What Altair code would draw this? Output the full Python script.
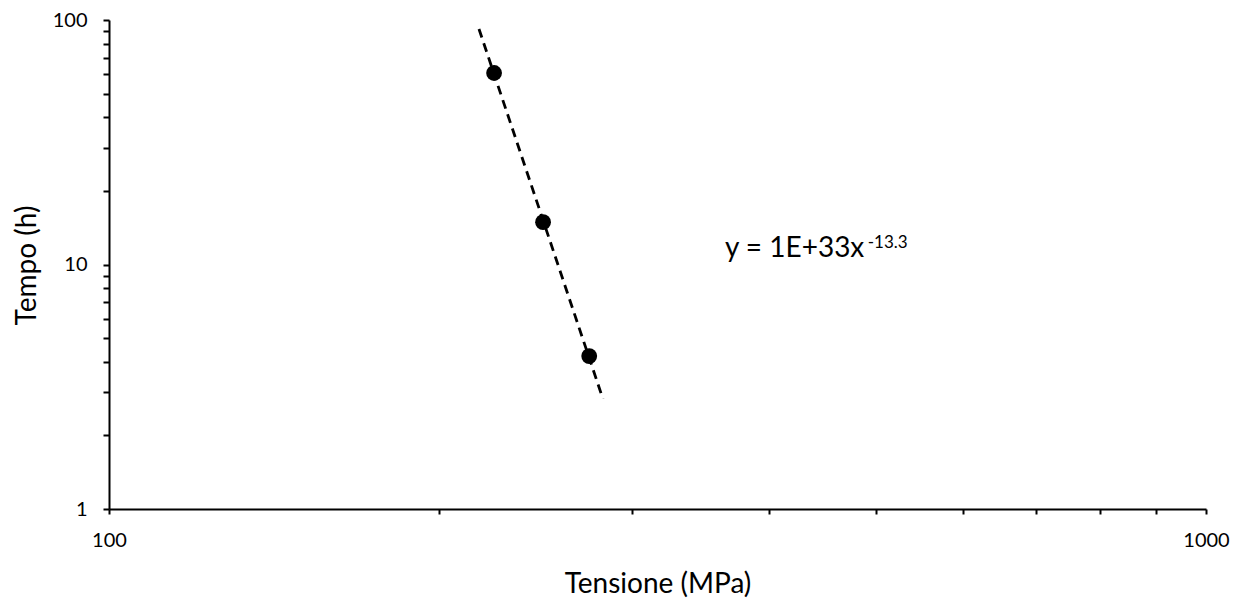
import altair as alt
import pandas as pd

# Data points
tension = [224.4, 248.7, 274.0]
time_h = [60.7, 14.9, 4.22]

# Trendline endpoints (power fit y = 1E+33 x^-13.3, as drawn)
trend_x = [217.4, 282.0]
trend_y = [91.9, 2.82]

x_ticks = [100, 200, 300, 400, 500, 600, 700, 800, 900, 1000]
y_ticks = [1, 2, 3, 4, 5, 6, 7, 8, 9, 10, 20, 30, 40, 50, 60, 70, 80, 90, 100]

eq_main = "y = 1E+33x"
eq_sup = "-13.3"
eq_pos = [(364.3, 10.73), (491.7, 11.68)]

FONT = "Lato"

pts = pd.DataFrame({"x": tension, "y": time_h})
trend = pd.DataFrame({"x": trend_x, "y": trend_y})
eq = pd.DataFrame({"x": [eq_pos[0][0], eq_pos[1][0]],
                   "y": [eq_pos[0][1], eq_pos[1][1]],
                   "t": [eq_main, eq_sup]})

xs = alt.Scale(type="log", domain=[100, 1000], nice=False)
ys = alt.Scale(type="log", domain=[1, 100], nice=False)

xaxis = alt.Axis(values=x_ticks, title="Tensione (MPa)",
                 labelExpr="(datum.value == 100 || datum.value == 1000) ? datum.value : ''",
                 grid=False, domainColor="black", domainWidth=2, tickColor="black",
                 tickWidth=2, tickSize=5, labelFontSize=20, labelFont=FONT,
                 labelColor="black", titleFont=FONT, titleFontSize=28,
                 titleFontWeight="normal", titleColor="black", labelPadding=16,
                 titleBaseline="alphabetic", titleY=83, labelFlush=False)
yaxis = alt.Axis(values=y_ticks, title="Tempo (h)",
                 labelExpr="(datum.value == 1 || datum.value == 10 || datum.value == 100) ? datum.value : ''",
                 grid=False, domainColor="black", domainWidth=2, tickColor="black",
                 tickWidth=2, tickSize=6, labelFontSize=20, labelFont=FONT,
                 labelColor="black", titleFont=FONT, titleFontSize=28,
                 titleFontWeight="normal", titleColor="black", labelPadding=16,
                 titleBaseline="middle", titleX=-82, titleY=245, labelFlush=False)

line = alt.Chart(trend).mark_line(color="black", strokeWidth=2.8, strokeDash=[9, 6]).encode(
    x=alt.X("x:Q", scale=xs, axis=xaxis),
    y=alt.Y("y:Q", scale=ys, axis=yaxis),
)
points = alt.Chart(pts).mark_circle(color="black", opacity=1, size=250).encode(
    x=alt.X("x:Q", scale=xs),
    y=alt.Y("y:Q", scale=ys),
)
text_main = alt.Chart(eq.iloc[[0]]).mark_text(align="left", baseline="alphabetic",
                                              fontSize=28, font=FONT, color="black").encode(
    x=alt.X("x:Q", scale=xs), y=alt.Y("y:Q", scale=ys), text="t:N")
text_sup = alt.Chart(eq.iloc[[1]]).mark_text(align="left", baseline="alphabetic",
                                             fontSize=17, font=FONT, color="black").encode(
    x=alt.X("x:Q", scale=xs), y=alt.Y("y:Q", scale=ys), text="t:N")

chart = alt.layer(line, points, text_main, text_sup).properties(
    width=1097, height=489,
    autosize=alt.AutoSizeParams(type="none"),
    padding={"left": 109, "top": 20, "right": 30, "bottom": 89},
    background="white",
).configure_view(stroke=None)

chart.save("out.html", embed_options={"renderer": "svg", "actions": False})
